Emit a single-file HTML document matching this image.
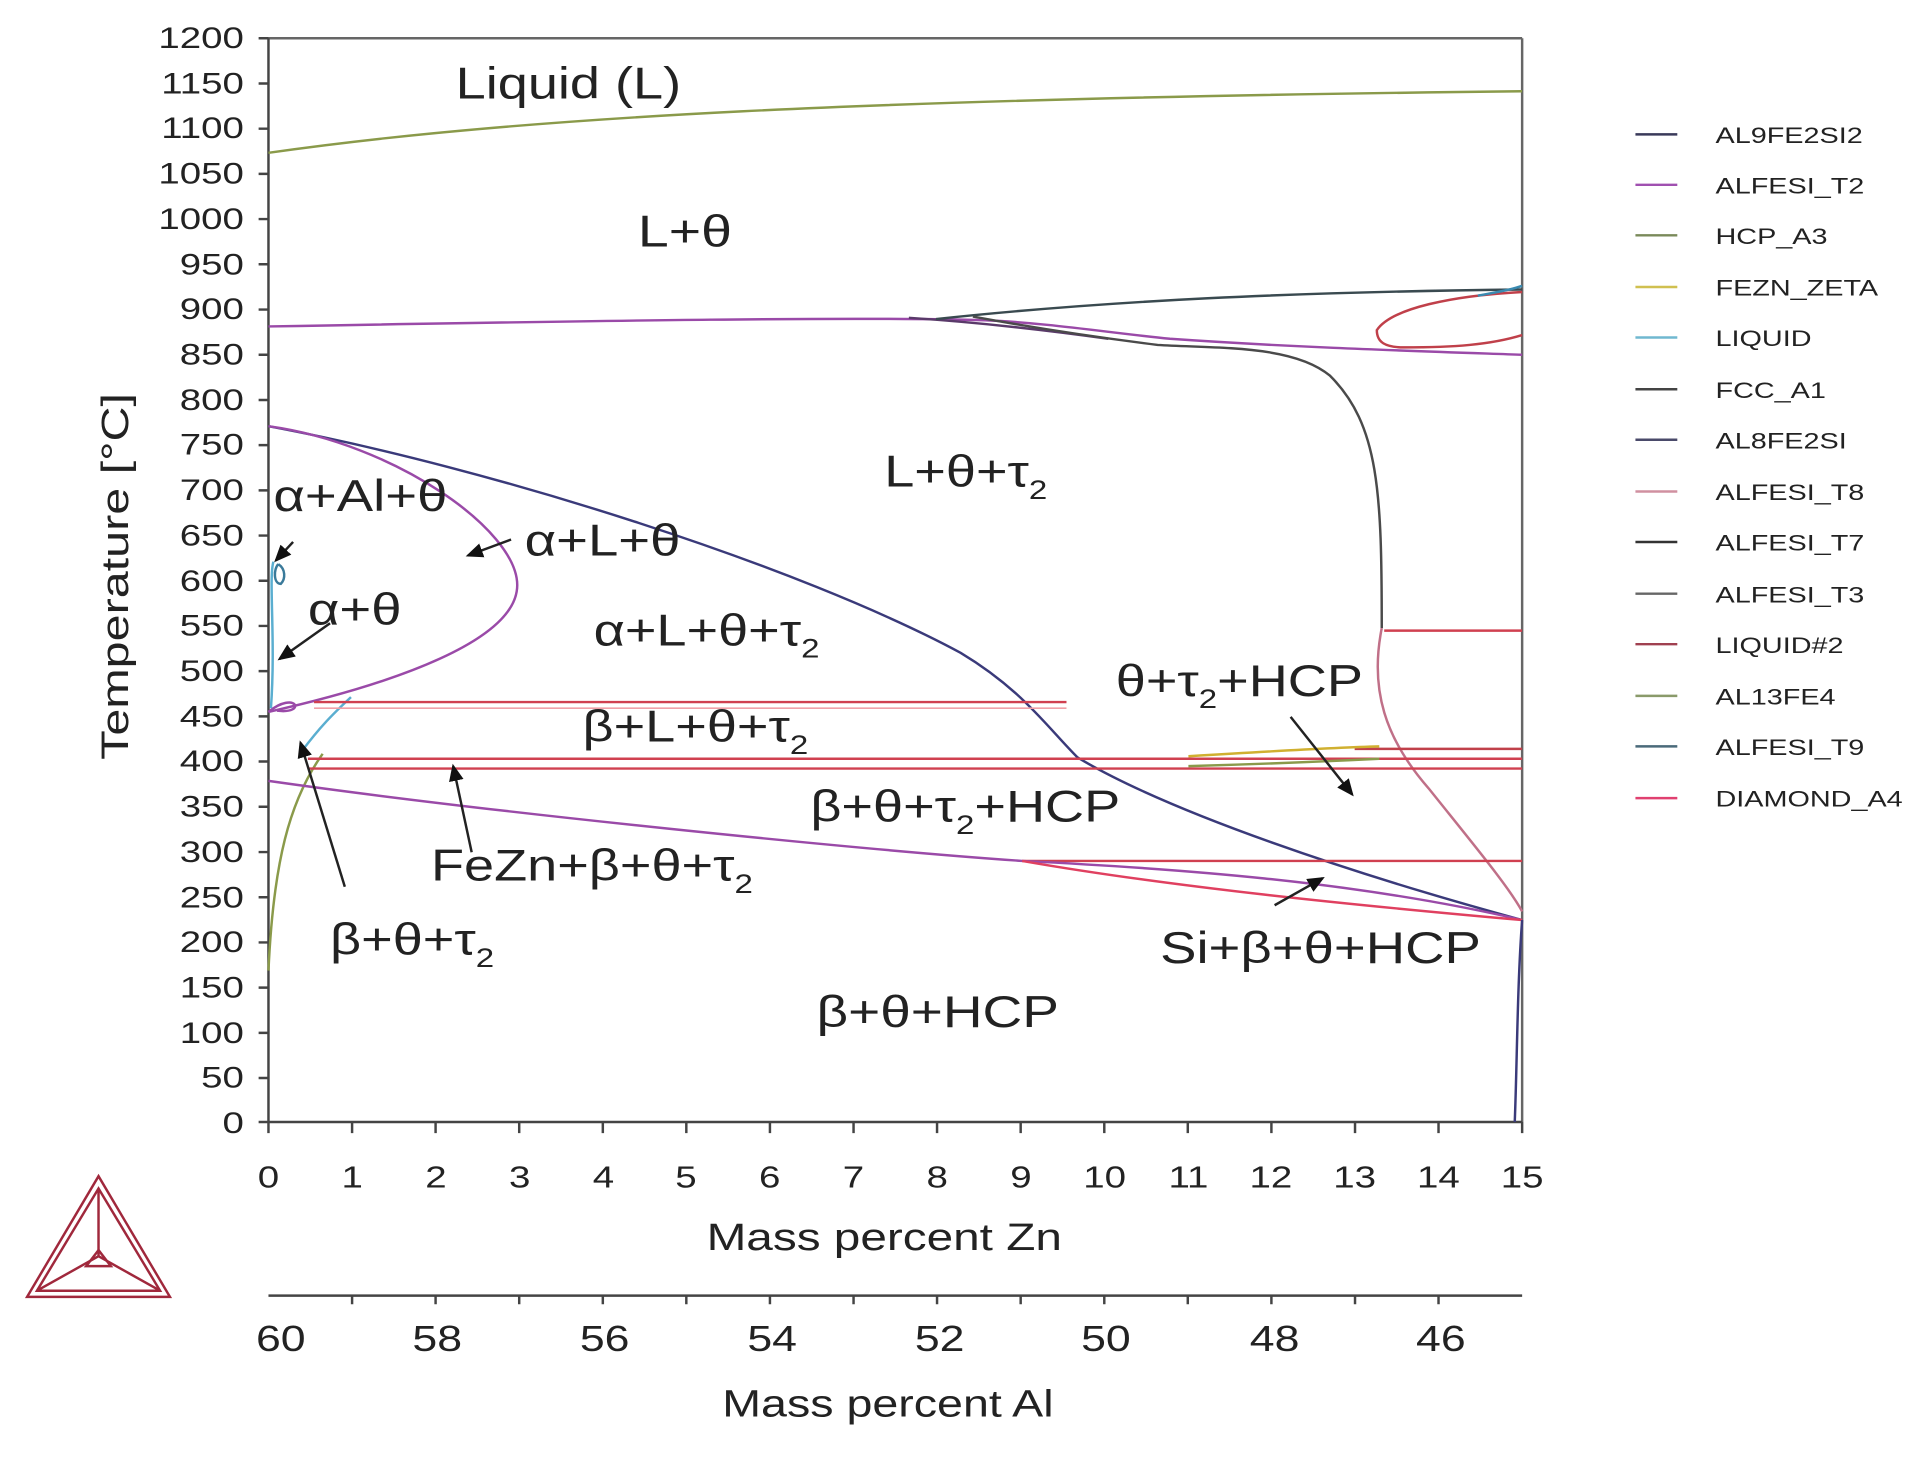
<!DOCTYPE html>
<html><head><meta charset="utf-8"><style>
html,body{margin:0;padding:0;background:#fff;}
svg{display:block;}
text{font-family:"Liberation Sans",sans-serif;fill:#222;}
</style></head><body>
<svg width="1931" height="1462" viewBox="0 0 1568 1187" xmlns="http://www.w3.org/2000/svg">
<rect width="1568" height="1187" fill="#fff"/>
<g stroke="#444" stroke-width="2" fill="none">
<line x1="218" y1="31" x2="1236" y2="31" stroke="#666"/>
<line x1="1236" y1="31" x2="1236" y2="911" stroke="#666"/>
<line x1="218" y1="31" x2="218" y2="911"/>
<line x1="210" y1="911" x2="1236" y2="911"/>
<line x1="218" y1="1052" x2="1236" y2="1052"/>
</g>
<g stroke="#444" stroke-width="2">
<path d="M210 31H218M210 67.7H218M210 104.4H218M210 141.1H218M210 177.8H218M210 214.5H218M210 251.3H218M210 288H218M210 324.7H218M210 361.4H218M210 398.1H218M210 434.8H218M210 471.5H218M210 508.2H218M210 544.9H218M210 581.6H218M210 618.3H218M210 655H218M210 691.8H218M210 728.5H218M210 765.2H218M210 801.9H218M210 838.6H218M210 875.3H218"/>
<path d="M218 911V920M285.9 911V920M353.7 911V920M421.6 911V920M489.5 911V920M557.3 911V920M625.2 911V920M693.1 911V920M760.9 911V920M828.8 911V920M896.7 911V920M964.5 911V920M1032.4 911V920M1100.3 911V920M1168.1 911V920M1236 911V920"/>
<path d="M285.9 1052V1059M353.7 1052V1059M421.6 1052V1059M489.5 1052V1059M557.3 1052V1059M625.2 1052V1059M693.1 1052V1059M760.9 1052V1059M828.8 1052V1059M896.7 1052V1059M964.5 1052V1059M1032.4 1052V1059M1100.3 1052V1059M1168.1 1052V1059"/>
</g>
<g transform="translate(198 0) scale(1.3 1)" font-size="24" text-anchor="end">
<text x="0" y="39">1200</text><text x="0" y="76">1150</text><text x="0" y="112">1100</text><text x="0" y="149">1050</text><text x="0" y="186">1000</text><text x="0" y="223">950</text><text x="0" y="259">900</text><text x="0" y="296">850</text><text x="0" y="333">800</text><text x="0" y="369">750</text><text x="0" y="406">700</text><text x="0" y="443">650</text><text x="0" y="480">600</text><text x="0" y="516">550</text><text x="0" y="553">500</text><text x="0" y="590">450</text><text x="0" y="626">400</text><text x="0" y="663">350</text><text x="0" y="700">300</text><text x="0" y="737">250</text><text x="0" y="773">200</text><text x="0" y="810">150</text><text x="0" y="847">100</text><text x="0" y="883">50</text><text x="0" y="920">0</text>
</g>
<g font-size="25" text-anchor="middle">
<text transform="translate(218 964) scale(1.25 1)">0</text><text transform="translate(286 964) scale(1.25 1)">1</text><text transform="translate(354 964) scale(1.25 1)">2</text><text transform="translate(422 964) scale(1.25 1)">3</text><text transform="translate(490 964) scale(1.25 1)">4</text><text transform="translate(557 964) scale(1.25 1)">5</text><text transform="translate(625 964) scale(1.25 1)">6</text><text transform="translate(693 964) scale(1.25 1)">7</text><text transform="translate(761 964) scale(1.25 1)">8</text><text transform="translate(829 964) scale(1.25 1)">9</text><text transform="translate(897 964) scale(1.25 1)">10</text><text transform="translate(965 964) scale(1.25 1)">11</text><text transform="translate(1032 964) scale(1.25 1)">12</text><text transform="translate(1100 964) scale(1.25 1)">13</text><text transform="translate(1168 964) scale(1.25 1)">14</text><text transform="translate(1236 964) scale(1.25 1)">15</text>
<text font-size="29" transform="translate(228 1097) scale(1.25 1)">60</text><text font-size="29" transform="translate(355 1097) scale(1.25 1)">58</text><text font-size="29" transform="translate(491 1097) scale(1.25 1)">56</text><text font-size="29" transform="translate(627 1097) scale(1.25 1)">54</text><text font-size="29" transform="translate(763 1097) scale(1.25 1)">52</text><text font-size="29" transform="translate(898 1097) scale(1.25 1)">50</text><text font-size="29" transform="translate(1035 1097) scale(1.25 1)">48</text><text font-size="29" transform="translate(1170 1097) scale(1.25 1)">46</text>
<text font-size="31" transform="translate(718 1015) scale(1.25 1)">Mass percent Zn</text>
<text font-size="31" transform="translate(721 1150) scale(1.22 1)">Mass percent Al</text>
</g>
<text font-size="31" text-anchor="middle" transform="translate(104,468) rotate(-90) scale(1.27 1)">Temperature [°C]</text>

<g fill="none" stroke-width="2">
<path d="M218 124 C420 95 700 80 1236 74" stroke="#8a9a4a"/>
<path d="M218 265 C500 260 700 257 800 260 C850 262 900 270 950 275 C1050 282 1150 285 1236 288" stroke="#9a4aa8"/>
<path d="M738 258 C800 262 850 268 900 275" stroke="#5a3a6a"/>
<path d="M760 259 C900 244 1050 237 1236 235" stroke="#3a4a50"/>
<path d="M790 257 C850 268 900 275 940 280 C990 283 1050 280 1080 305 C1120 345 1122 400 1122 510" stroke="#4a4a4a"/>
<path d="M1122 510 C1112 560 1125 600 1160 640 C1200 690 1225 720 1236 740" stroke="#c07088"/>
<path d="M1236 237 C1180 240 1130 250 1118 268 C1118 278 1125 282 1140 282 C1180 282 1210 280 1236 272" stroke="#c0404a"/>
<path d="M1236 232 C1225 236 1210 238 1200 240" stroke="#3a8ab0"/>
<path d="M218 346 C400 380 650 460 780 530 C830 560 850 590 875 615 C950 660 1100 710 1236 747" stroke="#3a3a7a"/>
<path d="M218 346 C320 360 420 430 420 475 C420 520 320 555 218 578" stroke="#9a4aa8"/>
<path d="M218 578 C240 560 250 580 225 577" stroke="#9a4aa8"/>
<path d="M222 456 C218 470 224 520 220 575" stroke="#5aaed0"/>
<path d="M226 458 C232 462 232 470 228 474 C222 474 222 462 226 458" stroke="#3a7a9a"/>
<path d="M245 610 C260 590 270 580 285 566" stroke="#5aaed0"/>
<path d="M218 788 C222 700 235 650 262 612" stroke="#8a9a4a"/>
<path d="M255 570 H866" stroke="#d04050"/>
<path d="M255 575 H866" stroke="#f0a0a8" stroke-width="1.3"/>
<path d="M250 616 H1236" stroke="#d04050"/>
<path d="M250 624 H1236" stroke="#d04050"/>
<path d="M1100 608 H1236" stroke="#c0404a"/>
<path d="M1124 512 H1236" stroke="#d04050"/>
<path d="M830 699 H1236" stroke="#d04050"/>
<path d="M965 614 C1030 610 1080 607 1120 606" stroke="#d0b030"/>
<path d="M965 622 C1040 620 1080 618 1120 616" stroke="#8a9a4a"/>
<path d="M218 634 C400 660 700 690 830 699 C950 705 1100 715 1236 747" stroke="#9a4aa8"/>
<path d="M830 699 C950 720 1100 735 1236 747" stroke="#e04060"/>
<path d="M1236 747 C1232 800 1232 860 1230 911" stroke="#3a3a7a"/>
</g>
<defs><marker id="ah" markerWidth="8" markerHeight="8" refX="6" refY="4" orient="auto"><path d="M0 1 L7 4 L0 7z" fill="#111"/></marker></defs>
<g stroke="#222" stroke-width="2" marker-end="url(#ah)" fill="none">
<line x1="238" y1="440" x2="224" y2="455"/>
<line x1="415" y1="438" x2="380" y2="451"/>
<line x1="268" y1="506" x2="227" y2="535"/>
<line x1="280" y1="720" x2="244" y2="603"/>
<line x1="383" y1="692" x2="368" y2="622"/>
<line x1="1048" y1="582" x2="1098" y2="645"/>
<line x1="1035" y1="735" x2="1074" y2="713"/>
</g>
<g font-size="36">
<text transform="translate(370 80) scale(1.22 1)">Liquid (L)</text>
<text transform="translate(518 200) scale(1.25 1)">L+θ</text>
<text transform="translate(718 395) scale(1.22 1)">L+θ+τ<tspan font-size="22" dy="10">2</tspan></text>
<text transform="translate(222 415) scale(1.23 1)">α+Al+θ</text>
<text transform="translate(426 451) scale(1.23 1)">α+L+θ</text>
<text transform="translate(250 507) scale(1.23 1)">α+θ</text>
<text transform="translate(482 524) scale(1.22 1)">α+L+θ+τ<tspan font-size="22" dy="10">2</tspan></text>
<text transform="translate(906 565) scale(1.22 1)">θ+τ<tspan font-size="22" dy="10">2</tspan><tspan dy="-10">+HCP</tspan></text>
<text transform="translate(473 602) scale(1.22 1)">β+L+θ+τ<tspan font-size="22" dy="10">2</tspan></text>
<text transform="translate(658 667) scale(1.22 1)">β+θ+τ<tspan font-size="22" dy="10">2</tspan><tspan dy="-10">+HCP</tspan></text>
<text transform="translate(350 715) scale(1.22 1)">FeZn+β+θ+τ<tspan font-size="22" dy="10">2</tspan></text>
<text transform="translate(268 775) scale(1.22 1)">β+θ+τ<tspan font-size="22" dy="10">2</tspan></text>
<text transform="translate(942 782) scale(1.23 1)">Si+β+θ+HCP</text>
<text transform="translate(663 834) scale(1.24 1)">β+θ+HCP</text>
</g>
<g stroke-width="2">
<line x1="1328" y1="109" x2="1362" y2="109" stroke="#3a3a5a"/>
<line x1="1328" y1="150" x2="1362" y2="150" stroke="#a050b0"/>
<line x1="1328" y1="191" x2="1362" y2="191" stroke="#7a8a5a"/>
<line x1="1328" y1="233" x2="1362" y2="233" stroke="#d0c050"/>
<line x1="1328" y1="274" x2="1362" y2="274" stroke="#70b8d0"/>
<line x1="1328" y1="316" x2="1362" y2="316" stroke="#444"/>
<line x1="1328" y1="357" x2="1362" y2="357" stroke="#4a4a6a"/>
<line x1="1328" y1="399" x2="1362" y2="399" stroke="#d090a0"/>
<line x1="1328" y1="440" x2="1362" y2="440" stroke="#333"/>
<line x1="1328" y1="482" x2="1362" y2="482" stroke="#666"/>
<line x1="1328" y1="523" x2="1362" y2="523" stroke="#a04050"/>
<line x1="1328" y1="565" x2="1362" y2="565" stroke="#8a9a6a"/>
<line x1="1328" y1="606" x2="1362" y2="606" stroke="#4a6a7a"/>
<line x1="1328" y1="648" x2="1362" y2="648" stroke="#e04070"/>
</g>
<g font-size="18" transform="translate(1393 0) scale(1.3 1)">
<text x="0" y="116">AL9FE2SI2</text><text x="0" y="157">ALFESI_T2</text><text x="0" y="198">HCP_A3</text><text x="0" y="240">FEZN_ZETA</text><text x="0" y="281">LIQUID</text><text x="0" y="323">FCC_A1</text><text x="0" y="364">AL8FE2SI</text><text x="0" y="406">ALFESI_T8</text><text x="0" y="447">ALFESI_T7</text><text x="0" y="489">ALFESI_T3</text><text x="0" y="530">LIQUID#2</text><text x="0" y="572">AL13FE4</text><text x="0" y="613">ALFESI_T9</text><text x="0" y="655">DIAMOND_A4</text>
</g>
<g fill="none" stroke="#a0283c" stroke-width="2">
<path d="M80 955 L138 1053 L22 1053 Z"/>
<path d="M80 965 L130 1048 L30 1048 Z"/>
<path d="M80 965 L80 1020 M80 1020 L30 1048 M80 1020 L130 1048"/>
<path d="M80 1015 L70 1028 L90 1028 Z"/>
</g>
</svg>
</body></html>
